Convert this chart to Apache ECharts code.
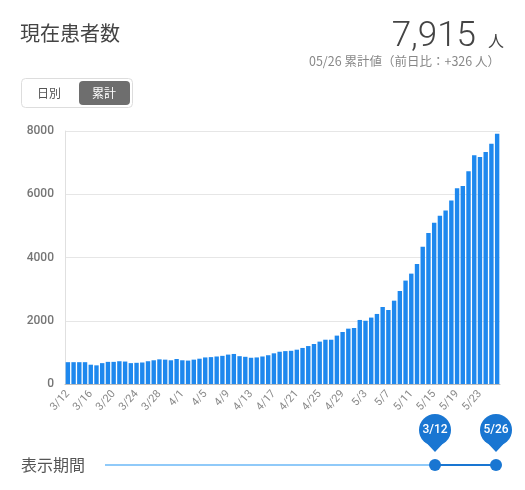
<!DOCTYPE html>
<html>
<head>
<meta charset="utf-8">
<title>現在患者数</title>
<script src="https://cdn.jsdelivr.net/npm/echarts@6/dist/echarts.min.js"></script>
<style>
  html, body { margin: 0; padding: 0; background: #fff; }
</style>
</head>
<body>
<div id="main" style="width:525px;height:490px;"></div>
<script type="text/javascript">
// 日付
const days = [
  '3/12','3/13','3/14','3/15','3/16','3/17','3/18','3/19','3/20','3/21','3/22','3/23','3/24','3/25','3/26','3/27','3/28','3/29','3/30','3/31',
  '4/1','4/2','4/3','4/4','4/5','4/6','4/7','4/8','4/9','4/10','4/11','4/12','4/13','4/14','4/15','4/16','4/17','4/18','4/19','4/20','4/21','4/22','4/23','4/24','4/25','4/26','4/27','4/28','4/29','4/30',
  '5/1','5/2','5/3','5/4','5/5','5/6','5/7','5/8','5/9','5/10','5/11','5/12','5/13','5/14','5/15','5/16','5/17','5/18','5/19','5/20','5/21','5/22','5/23','5/24','5/25','5/26'
];
// 累計の現在患者数
const patients = [
  690,690,690,690,610,590,660,700,700,720,710,660,670,680,720,750,780,770,750,790,
  750,740,770,800,840,850,870,890,930,950,880,860,830,840,870,910,970,1020,1040,1050,1085,1140,1200,1265,1340,1400,1400,1530,1645,1750,
  1770,2025,2000,2100,2215,2435,2340,2635,2940,3270,3490,3795,4340,4775,5100,5320,5490,5800,6190,6260,6725,7230,7180,7335,7600,7915
];
const yTicks = { min: 0, max: 8000, interval: 2000 };
const labelFont = 'Roboto, "Noto Sans CJK JP", sans-serif';
const jpFont = '"Noto Sans CJK JP", sans-serif';

function txt(x, y, text, size, color, align, family, weight) {
  return { type: 'text', x: x, y: y, silent: true, style: {
    text: text, fontSize: size, fill: color, align: align || 'left', verticalAlign: 'middle',
    fontFamily: family || jpFont, fontWeight: weight || 'normal' } };
}
function pin(x, label) {
  return [
    { type: 'polygon', silent: true, shape: { points: [[x - 14, 437], [x, 452], [x + 14, 437]] }, style: { fill: '#1976d2' } },
    { type: 'circle', silent: true, shape: { cx: x, cy: 430, r: 16 }, style: { fill: '#1976d2' } },
    txt(x, 430, label, 12, '#fff', 'center', labelFont, 500),
    { type: 'circle', silent: true, shape: { cx: x, cy: 465, r: 6 }, style: { fill: '#1976d2' } }
  ];
}

let myChart = echarts.init(document.getElementById('main'));
myChart.setOption({
  animation: false,
  grid: { left: 65, right: 25, top: 131, bottom: 106 },
  xAxis: {
    type: 'category',
    data: days,
    axisTick: { show: false },
    axisLine: { lineStyle: { color: '#bdbdbd' } },
    axisLabel: { interval: 3, rotate: 48, color: '#8a8a8a', fontSize: 11, fontFamily: labelFont, margin: 8 }
  },
  yAxis: {
    type: 'value',
    min: yTicks.min,
    max: yTicks.max,
    interval: yTicks.interval,
    axisLine: { show: true, lineStyle: { color: '#e0e0e0' } },
    axisTick: { show: false },
    splitLine: { lineStyle: { color: '#e6e6e6' } },
    axisLabel: { color: '#757575', fontSize: 12, fontFamily: labelFont, fontWeight: 500, margin: 11, formatter: function (v) { return String(v); } }
  },
  series: [{
    type: 'bar',
    data: patients,
    barWidth: 4.4,
    itemStyle: { color: '#1e88ee' }
  }],
  graphic: [
    txt(20, 33, '現在患者数', 20, '#444'),
    txt(476, 37, '7,915', 35, '#444', 'right', labelFont, 300),
    txt(504, 41, '人', 16, '#444', 'right'),
    txt(500, 61, '05/26 累計値（前日比：+326 人）', 12.5, '#888', 'right'),
    { type: 'rect', silent: true, shape: { x: 21.5, y: 78.5, width: 111, height: 29, r: 4 }, style: { fill: '#fff', stroke: '#ddd' } },
    { type: 'rect', silent: true, shape: { x: 79, y: 81, width: 51, height: 24, r: 4 }, style: { fill: '#6e6e6e' } },
    txt(49, 93, '日別', 12, '#555', 'center'),
    txt(104, 93, '累計', 12, '#fff', 'center'),
    txt(21, 465, '表示期間', 16, '#555'),
    { type: 'line', silent: true, shape: { x1: 105, y1: 465, x2: 435, y2: 465 }, style: { stroke: '#90caf9', lineWidth: 2 } },
    { type: 'line', silent: true, shape: { x1: 435, y1: 465, x2: 496, y2: 465 }, style: { stroke: '#1976d2', lineWidth: 2 } }
  ].concat(pin(435, days[0]), pin(496, days[days.length - 1]))
});
</script>
</body>
</html>
